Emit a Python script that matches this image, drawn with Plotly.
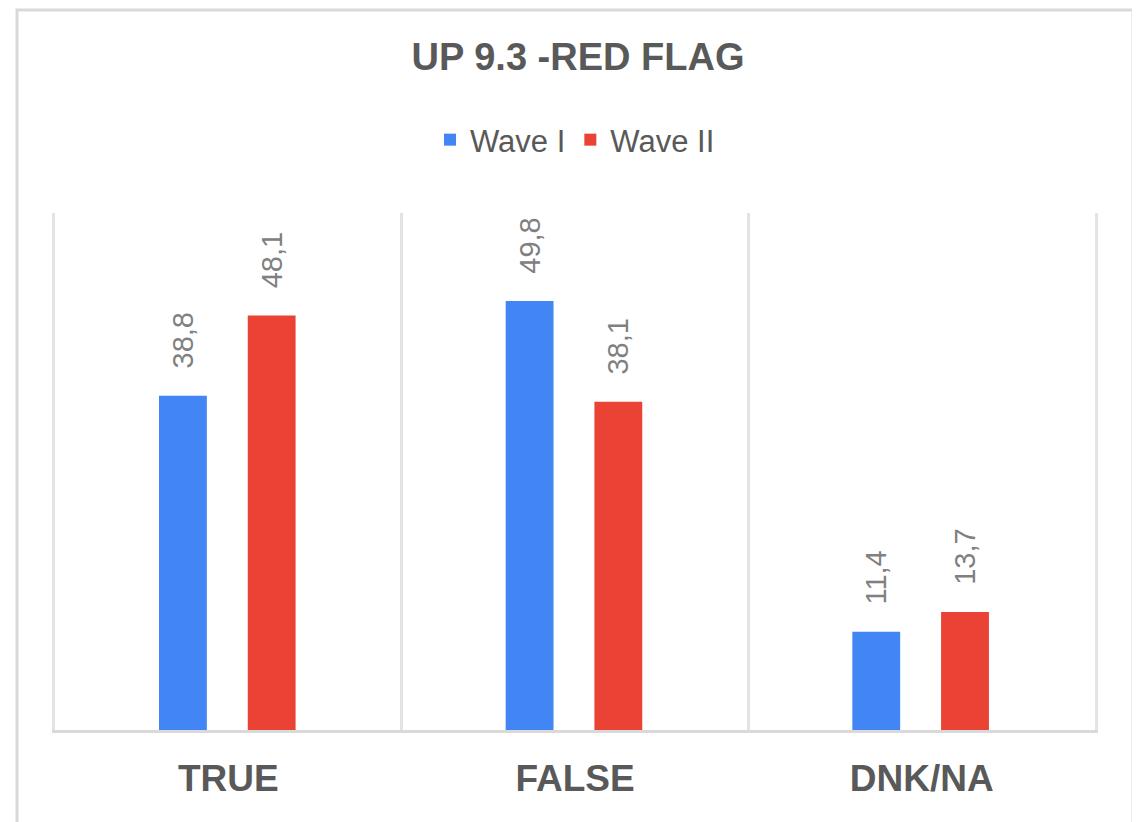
import plotly.graph_objects as go

categories = ["TRUE", "FALSE", "DNK/NA"]
wave1 = [38.8, 49.8, 11.4]
wave2 = [48.1, 38.1, 13.7]
series_names = ["Wave I", "Wave II"]
title_text = "UP 9.3 -RED FLAG"

FONT = "Liberation Sans, Arial, sans-serif"
PAD = "\u00a0\u00a0\u00a0"  # gap between bar top and rotated value label

# page is rendered with an 8px body margin; page coords -> figure coords
OFF = 8
PL, PR, PT, PB = 55, 1095, 213, 730  # plot area in page pixels

fig = go.Figure()
for vals, name, color, off in [(wave1, series_names[0], "#4285F4", -0.2),
                               (wave2, series_names[1], "#EA4335", 0.056)]:
    fig.add_trace(go.Bar(
        x=categories, y=vals, name=name,
        marker=dict(color=color, line=dict(width=0)),
        width=0.138, offset=off,
        texttemplate=PAD + "%{y:.1f}", textposition="outside", textangle=-90,
        textfont=dict(family=FONT, size=29, color="#808080"),
        constraintext="none",
        cliponaxis=False,
    ))

fig.update_layout(
    width=1140, height=822,
    margin=dict(l=PL - OFF, r=1140 - (PR - OFF), t=PT - OFF, b=822 - (PB - OFF)),
    paper_bgcolor="white", plot_bgcolor="white",
    separators=",.",
    barmode="group",
    title=dict(text="<b>" + title_text + "</b>", x=0.5, xanchor="center",
               y=1 - (57 - OFF) / 822, yanchor="middle",
               font=dict(family=FONT, size=38, color="#595959")),
    legend=dict(orientation="h", x=0.5, xanchor="center", y=1 - (140 - OFF) / 822,
                yref="container", yanchor="middle",
                font=dict(family=FONT, size=31, color="#595959"),
                itemwidth=30, traceorder="normal"),
    showlegend=True,
)
fig.update_xaxes(
    type="category", range=[-0.5, 2.5],
    tickson="boundaries", showgrid=True, gridcolor="#e3e3e3", gridwidth=3,
    showline=True, linecolor="#d9d9d9", linewidth=3,
    ticks="", tickfont=dict(family=FONT, size=37, color="#595959"),
    ticklabelstandoff=14, tickprefix="<b>", ticksuffix="</b>",
)
fig.update_yaxes(range=[0, 60], showgrid=False, showticklabels=False,
                 zeroline=False, showline=True, mirror=True,
                 linecolor="#e3e3e3", linewidth=3)

W = PR - PL
H = PB - PT
fig.add_shape(type="rect", xref="paper", yref="paper",
              x0=(17 - PL) / W, x1=(1133 - PL) / W,
              y0=(PB - 850) / H, y1=(PB - 10) / H,
              line=dict(color="#d9d9d9", width=3), fillcolor="rgba(0,0,0,0)",
              layer="below")

fig.write_html("out.html")
